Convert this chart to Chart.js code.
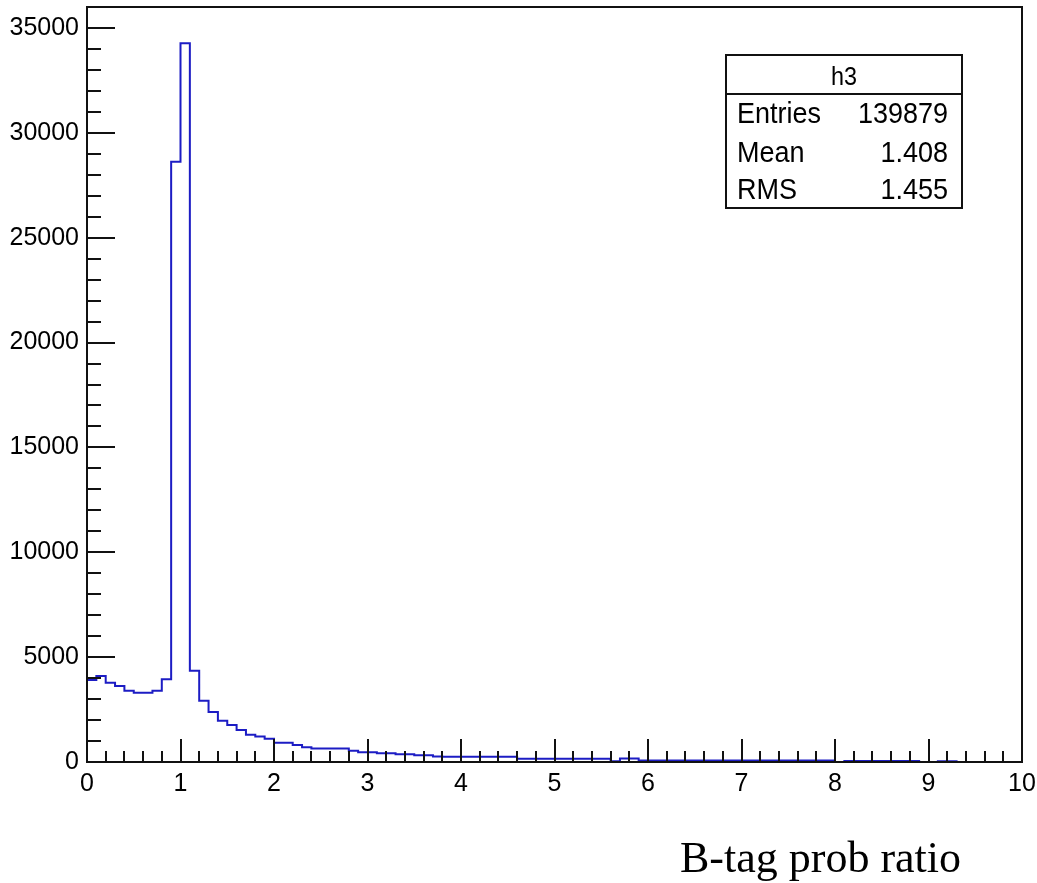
<!DOCTYPE html>
<html>
<head>
<meta charset="utf-8">
<script src="https://cdn.jsdelivr.net/npm/chart.js@4.4.1/dist/chart.umd.min.js"></script>
<style>
  html, body { margin: 0; padding: 0; background: #fff; }
  #wrap { width: 1037px; height: 883px; position: relative; }
</style>
</head>
<body>
<div id="wrap"><canvas id="h3Chart"></canvas></div>
<script>
// histogram h3: 100 bins from 0 to 10
const xMin = 0;
const xMax = 10;
const binWidth = 0.1;
const binCounts = [
    3910, 4100, 3780, 3620, 3400, 3300, 3300, 3400, 3940, 28620,
    34270, 4350, 2920, 2380, 1970, 1760, 1530, 1300, 1210, 1110,
    920, 920, 810, 700, 640, 640, 640, 640, 540, 460,
    460, 415, 415, 370, 370, 320, 320, 260, 250, 250,
    250, 250, 250, 250, 250, 250, 160, 160, 160, 160,
    160, 160, 160, 160, 160, 160, 40, 170, 170, 70,
    70, 70, 70, 70, 70, 70, 70, 70, 70, 70,
    70, 70, 70, 70, 70, 70, 70, 70, 70, 70,
    0, 50, 50, 50, 50, 50, 50, 50, 50, 0,
    0, 40, 40, 0, 0, 0, 0, 0, 0, 0
];
const xTicks = [0, 1, 2, 3, 4, 5, 6, 7, 8, 9, 10];
const yTicks = [0, 5000, 10000, 15000, 20000, 25000, 30000, 35000];
const yMax = 36000;

const statsTitle = 'h3';
const statsLabels = ['Entries', 'Mean', 'RMS'];
const statsValues = ['139879', '1.408', '1.455'];
const xTitle = 'B-tag prob ratio';

const sansFont = '"Liberation Sans", Arial, sans-serif';
const lineColor = '#1c1cc4';

// step points: left edge of each bin, plus the right edge of the last bin
const histPoints = binCounts.map((c, i) => ({ x: xMin + i * binWidth, y: c }));
histPoints.push({ x: xMax, y: binCounts[binCounts.length - 1] });

// draw text squeezed a bit horizontally, like the ROOT font
function narrowText(ctx, text, x, y, align) {
    const sx = 0.9;
    ctx.save();
    ctx.translate(x, y);
    ctx.scale(sx, 1);
    ctx.textAlign = align;
    ctx.fillText(text, 0, 0);
    ctx.restore();
}

// ROOT-style frame, inward ticks, stats box and axis title
const rootFrame = {
    id: 'rootFrame',
    afterDraw(chart) {
        const { ctx, chartArea: a, scales } = chart;
        const x = scales.x, y = scales.y;
        ctx.save();
        ctx.strokeStyle = '#111';
        ctx.lineWidth = 2;
        ctx.strokeRect(a.left, a.top, a.right - a.left, a.bottom - a.top);

        // x ticks
        ctx.beginPath();
        for (let k = 0; k <= 50; k++) {
            const v = k * 0.2;
            const px = Math.round(x.getPixelForValue(v));
            const len = (k % 5 === 0) ? 23 : 11;
            ctx.moveTo(px, a.bottom);
            ctx.lineTo(px, a.bottom - len);
        }
        // y ticks
        for (let v = 0; v <= yMax; v += 1000) {
            const py = Math.round(y.getPixelForValue(v));
            const len = (v % 5000 === 0) ? 28 : 14;
            ctx.moveTo(a.left, py);
            ctx.lineTo(a.left + len, py);
        }
        ctx.stroke();

        // stats box
        const bx = 726, by = 55, bw = 236, bh = 153;
        ctx.fillStyle = '#fff';
        ctx.fillRect(bx, by, bw, bh);
        ctx.lineWidth = 2;
        ctx.strokeStyle = '#111';
        ctx.strokeRect(bx, by, bw, bh);
        ctx.beginPath();
        ctx.moveTo(bx, 94);
        ctx.lineTo(bx + bw, 94);
        ctx.stroke();

        ctx.fillStyle = '#000';
        ctx.textBaseline = 'alphabetic';
        ctx.font = '26px ' + sansFont;
        narrowText(ctx, statsTitle, bx + bw / 2, 85, 'center');
        ctx.font = '30px ' + sansFont;
        const rowBase = [123, 162, 199];
        statsLabels.forEach((lab, i) => {
            narrowText(ctx, lab, 737, rowBase[i], 'left');
            narrowText(ctx, statsValues[i], 948, rowBase[i], 'right');
        });

        // x axis title
        ctx.font = '44px "Liberation Serif", "Times New Roman", serif';
        ctx.textAlign = 'left';
        ctx.fillText(xTitle, 680, 872);
        ctx.restore();
    }
};

const ctx = document.getElementById('h3Chart').getContext('2d');
const h3Chart = new Chart(ctx, {
    type: 'line',
    data: {
        datasets: [{
            label: statsTitle,
            data: histPoints,
            stepped: true,
            borderColor: lineColor,
            borderWidth: 2,
            pointRadius: 0,
            fill: false
        }]
    },
    options: {
        responsive: true,
        maintainAspectRatio: false,
        animation: false,
        layout: { padding: { left: 0, top: 7, right: 15, bottom: 0 } },
        plugins: {
            legend: { display: false },
            tooltip: { enabled: false }
        },
        scales: {
            x: {
                type: 'linear',
                min: xMin,
                max: xMax,
                grid: { display: false, drawTicks: false },
                border: { display: false },
                afterBuildTicks: (s) => { s.ticks = xTicks.map(v => ({ value: v })); },
                afterFit: (s) => { s.height = 121; s.paddingLeft = 0; s.paddingRight = 0; },
                ticks: {
                    padding: 7,
                    maxRotation: 0,
                    autoSkip: false,
                    color: '#000',
                    font: { family: sansFont, size: 25 },
                    callback: (v) => String(v)
                }
            },
            y: {
                type: 'linear',
                min: 0,
                max: yMax,
                grid: { display: false, drawTicks: false },
                border: { display: false },
                afterBuildTicks: (s) => { s.ticks = yTicks.map(v => ({ value: v })); },
                afterFit: (s) => { s.width = 87; s.paddingTop = 0; s.paddingBottom = 0; },
                ticks: {
                    padding: 8,
                    color: '#000',
                    font: { family: sansFont, size: 25 },
                    callback: (v) => String(v)
                }
            }
        }
    },
    plugins: [rootFrame]
});
</script>
</body>
</html>
